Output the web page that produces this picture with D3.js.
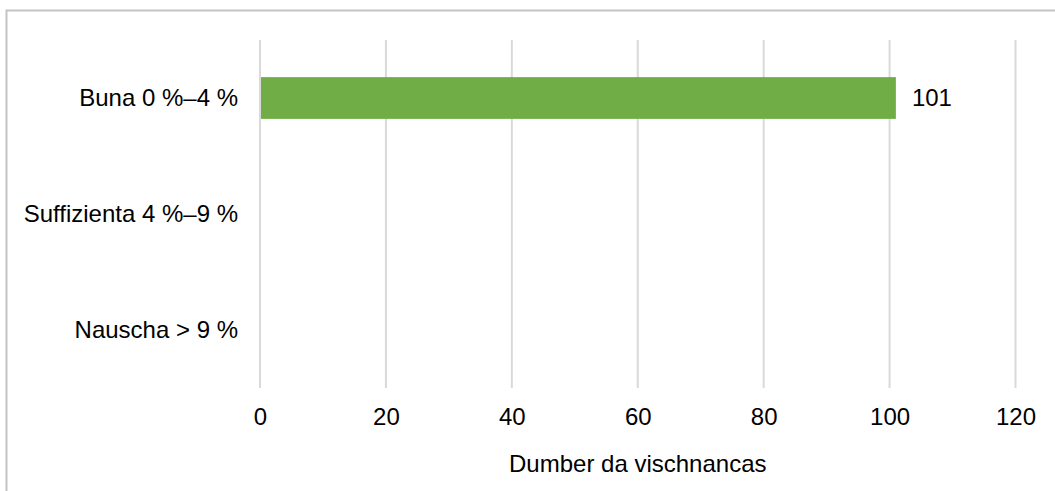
<!DOCTYPE html>
<html>
<head>
<meta charset="utf-8">
<script src="https://cdnjs.cloudflare.com/ajax/libs/d3/7.8.5/d3.min.js"></script>
<style>
body{margin:0;background:#fff;}
text{font-family:"Liberation Sans",Arial,sans-serif;fill:#000;}
</style>
</head>
<body>
<svg id="chart"></svg>
<script>
var categories=["Buna 0 %–4 %","Suffizienta 4 %–9 %","Nauscha > 9 %"];
var values=[101,null,null];
var tickValues=[0,20,40,60,80,100,120];
var axisTitle="Dumber da vischnancas";

var w=1055;
var h=491;
var fs="24px";
var margin={top:40,bottom:103,left:260,right:39.5};

var svg=d3.select("#chart")
          .attr("width",w)
          .attr("height",h);

// frame round the chart, runs off the right and bottom
svg.append("rect")
   .attr("x",6.5)
   .attr("y",10.5)
   .attr("width",w)
   .attr("height",h)
   .attr("fill","none")
   .attr("stroke","#c4c4c4")
   .attr("stroke-width",2);

var xScale=d3.scaleLinear()
             .domain([0,120])
             .range([margin.left,w-margin.right]);
var yScale=d3.scaleBand()
             .domain(categories)
             .range([margin.top,h-margin.bottom])
             .paddingInner(0.64)
             .paddingOuter(0.32);

// gridlines
svg.append("g")
   .selectAll("line")
   .data(tickValues)
   .enter()
   .append("line")
   .attr("x1",function(d){return xScale(d);})
   .attr("x2",function(d){return xScale(d);})
   .attr("y1",margin.top)
   .attr("y2",h-margin.bottom)
   .attr("stroke","#d9d9d9")
   .attr("stroke-width",2);

// bars
var data=categories.map(function(c,i){return {name:c,value:values[i]};});
svg.append("g")
   .selectAll("rect")
   .data(data.filter(function(d){return d.value!=null;}))
   .enter()
   .append("rect")
   .attr("x",xScale(0)+1)
   .attr("y",function(d){return yScale(d.name);})
   .attr("width",function(d){return xScale(d.value)-xScale(0)-1;})
   .attr("height",yScale.bandwidth())
   .attr("fill","#70ad47");

svg.append("g")
   .selectAll("text")
   .data(data.filter(function(d){return d.value!=null;}))
   .enter()
   .append("text")
   .attr("x",function(d){return xScale(d.value)+16;})
   .attr("y",function(d){return yScale(d.name)+yScale.bandwidth()/2;})
   .attr("dy","0.35em")
   .style("font-size",fs)
   .text(function(d){return d.value;});

// axes
var xAxis=d3.axisBottom(xScale)
            .tickValues(tickValues)
            .tickSize(0)
            .tickPadding(20);
var gx=svg.append("g")
   .attr("transform","translate(0,"+(h-margin.bottom)+")")
   .call(xAxis);
gx.select(".domain").remove();
gx.selectAll("text").style("font-size",fs).attr("font-family",null);

var yAxis=d3.axisLeft(yScale)
            .tickSize(0)
            .tickPadding(22);
var gy=svg.append("g")
   .attr("transform","translate("+margin.left+",0)")
   .call(yAxis);
gy.select(".domain").remove();
gy.selectAll("text").style("font-size",fs).attr("font-family",null);

svg.append("text")
   .attr("x",(xScale(0)+xScale(120))/2)
   .attr("y",464)
   .attr("dy","0.35em")
   .attr("text-anchor","middle")
   .style("font-size",fs)
   .text(axisTitle);
</script>
</body>
</html>
